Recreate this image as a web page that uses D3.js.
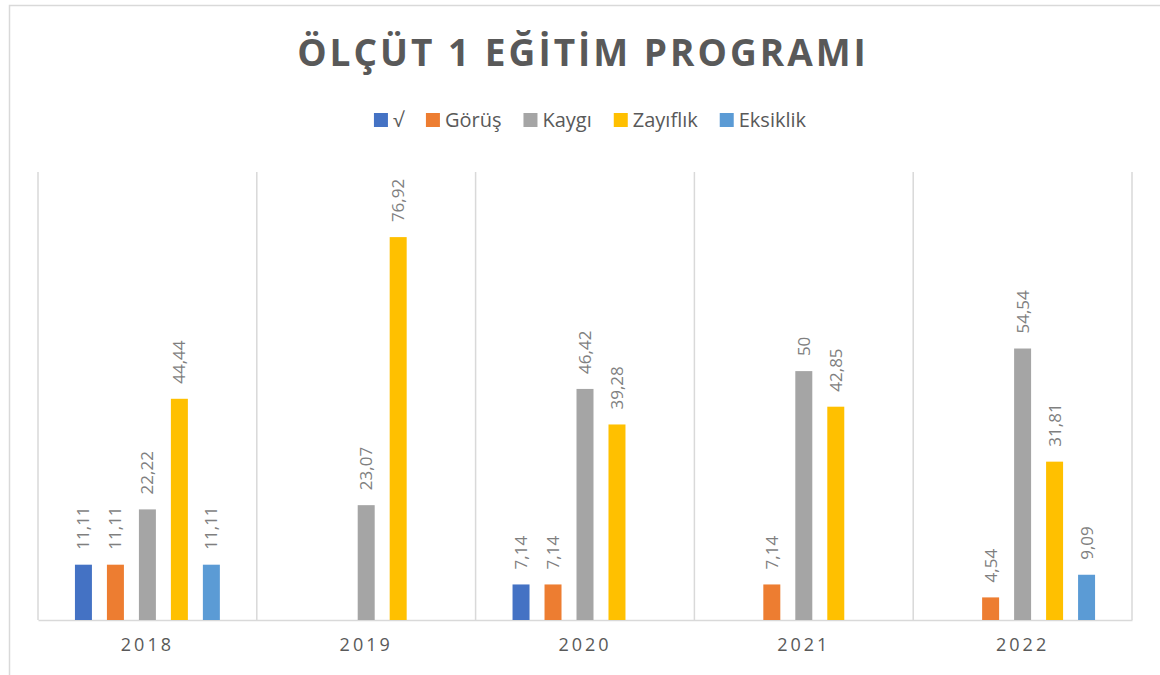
<!DOCTYPE html>
<html>
<head>
<meta charset="utf-8">
<script src="https://cdn.jsdelivr.net/npm/d3@7"></script>
<style>
  body { margin: 0; background: #fff; }
  svg { display: block; font-family: "Open Sans", "Noto Sans", sans-serif; }
</style>
</head>
<body>
<div id="vis"></div>
<script>
const WIDTH = 1160;
const HEIGHT = 675;

// datos
const years = ["2018", "2019", "2020", "2021", "2022"];
const series = ["√", "Görüş", "Kaygı", "Zayıflık", "Eksiklik"];
const colors = ["#4472C4", "#ED7D31", "#A5A5A5", "#FFC000", "#5B9BD5"];
const tick_v = [11.11, null, 7.14, null, null];
const gorus = [11.11, null, 7.14, 7.14, 4.54];
const kaygi = [22.22, 23.07, 46.42, 50, 54.54];
const zayiflik = [44.44, 76.92, 39.28, 42.85, 31.81];
const eksiklik = [11.11, null, null, null, 9.09];
const values = [tick_v, gorus, kaygi, zayiflik, eksiklik];

const title = "ÖLÇÜT 1 EĞİTİM PROGRAMI";

const plot = {left: 38, right: 1132, top: 172, bottom: 620};

const SVG = d3.select("#vis").append("svg")
    .attr("width", WIDTH).attr("height", HEIGHT);

// marco del gráfico
SVG.append("rect")
    .attr("x", 9.5).attr("y", 5.5)
    .attr("width", WIDTH + 20).attr("height", HEIGHT + 20)
    .attr("fill", "none").attr("stroke", "#d9d9d9").attr("stroke-width", 1.5);

// escalas
const x0 = d3.scaleBand().domain(years).range([plot.left, plot.right]).padding(0);
const x1 = d3.scaleBand().domain(series).range([0, x0.bandwidth()])
    .paddingInner(15 / 32).paddingOuter(1.155);
const y = d3.scaleLinear().domain([0, 90]).range([plot.bottom, plot.top]);

// líneas verticales entre categorías
const bordes = years.map(d => x0(d)).concat([x0(years[years.length - 1]) + x0.bandwidth()]);
SVG.append("g").selectAll("line")
    .data(bordes)
    .join("line")
    .attr("x1", d => d).attr("x2", d => d)
    .attr("y1", plot.top).attr("y2", plot.bottom)
    .attr("stroke", "#d9d9d9").attr("stroke-width", 1.5);

// eje x
const ejeX = SVG.append("g")
    .attr("transform", `translate(0,${plot.bottom})`)
    .call(d3.axisBottom(x0).tickSize(0).tickPadding(18));
ejeX.select(".domain").attr("stroke", "#d9d9d9").attr("stroke-width", 1.5);
ejeX.selectAll("text")
    .attr("font-size", 18).attr("fill", "#595959")
    .attr("font-family", "'Open Sans', sans-serif")
    .style("letter-spacing", "3px");

// barras
const filas = [];
years.forEach((yr, i) => {
    series.forEach((s, j) => {
        if (values[j][i] != null) filas.push({year: yr, serie: s, idx: j, value: values[j][i]});
    });
});

const barras = SVG.append("g");
barras.selectAll("rect")
    .data(filas)
    .join("rect")
    .attr("x", d => x0(d.year) + x1(d.serie))
    .attr("y", d => y(d.value))
    .attr("width", x1.bandwidth())
    .attr("height", d => y(0) - y(d.value))
    .attr("fill", d => colors[d.idx]);

// etiquetas
barras.selectAll("text")
    .data(filas)
    .join("text")
    .attr("transform", d => `translate(${x0(d.year) + x1(d.serie) + x1.bandwidth() / 2},${y(d.value) - 15}) rotate(-90)`)
    .attr("dy", "0.35em")
    .attr("text-anchor", "start")
    .attr("font-size", 17)
    .attr("fill", "#7f7f7f")
    .text(d => String(d.value).replace(".", ","));

// título
SVG.append("text")
    .attr("x", 583).attr("y", 66)
    .attr("text-anchor", "middle")
    .attr("font-size", 37).attr("font-weight", "bold")
    .attr("fill", "#595959")
    .style("letter-spacing", "3px")
    .text(title);

// leyenda
const leyenda = SVG.append("g");
let lx = 0;
series.forEach((s, i) => {
    const item = leyenda.append("g").attr("transform", `translate(${lx},0)`);
    item.append("rect").attr("x", 0).attr("y", 113).attr("width", 14).attr("height", 14).attr("fill", colors[i]);
    const t = item.append("text").attr("x", 19).attr("y", 127)
        .attr("font-size", 20).attr("fill", "#595959").text(s);
    lx += 19 + t.node().getComputedTextLength() + 22;
});
const anchoLeyenda = lx - 22;
leyenda.attr("transform", `translate(${590 - anchoLeyenda / 2},0)`);
</script>
</body>
</html>
